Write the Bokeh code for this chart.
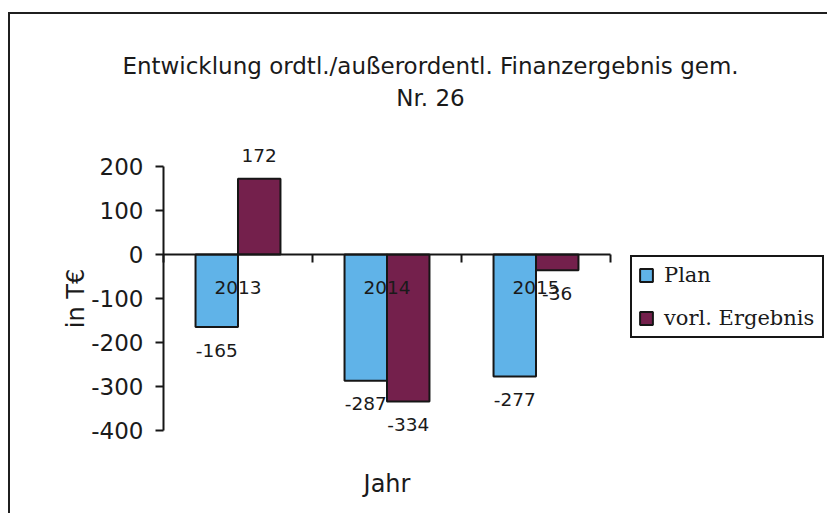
import math
from bokeh.plotting import figure
from bokeh.models import (ColumnDataSource, Range1d, FixedTicker, Label, Legend, LegendItem,
                          CustomJSTickFormatter)
from bokeh.transform import dodge
from bokeh.core.properties import value
from bokeh.embed import file_html
from bokeh.resources import INLINE

# ---- data ----
years = ["2013", "2014", "2015"]
plan = [-165, -287, -277]
vorl = [172, -334, -36]
y_ticks = [-400, -300, -200, -100, 0, 100, 200]
series_names = ["Plan", "vorl. Ergebnis"]
title_lines = ["Entwicklung ordtl./außerordentl. Finanzergebnis gem.", "Nr. 26"]
x_title = "Jahr"
y_title = "in T€"

# ---- style / layout ----
PLAN_COLOR = "#60b3e8"
VORL_COLOR = "#74204c"
EDGE = "#161616"
TXT = "#1a1a1a"
SANS = "DejaVu Sans"
SERIF = "DejaVu Serif"
BAR_W = 0.285
OFF = BAR_W / 2

W, H = 819, 501            # canvas size
CANVAS_X0, CANVAS_Y0 = 10, 14   # canvas origin on the page
CAT_PX = 149.0             # pixels per category
PLOT_LEFT = 153            # canvas x of the first category boundary
PX_PER_UNIT = 0.44         # vertical pixels per value unit
TOP_VAL_PX = 152           # canvas y of the top tick value

n = len(years)
xs = list(range(n))
x_start = -0.5 - PLOT_LEFT / CAT_PX
x_end = x_start + W / CAT_PX
y_top = y_ticks[-1] + TOP_VAL_PX / PX_PER_UNIT
y_bottom = y_top - H / PX_PER_UNIT


def dx(page_x):
    return x_start + (page_x - CANVAS_X0) / CAT_PX


def dy(page_y):
    return y_top - (page_y - CANVAS_Y0) / PX_PER_UNIT


def label_offsets(vals):
    return [-23 if v >= 0 else 23 for v in vals]


src = ColumnDataSource(dict(
    x=xs,
    year=years,
    plan=plan,
    vorl=vorl,
    plan_txt=[str(v) for v in plan],
    vorl_txt=[str(v) for v in vorl],
    plan_off=label_offsets(plan),
    vorl_off=label_offsets(vorl),
    zero=[0] * n,
))

p = figure(x_range=Range1d(x_start, x_end), y_range=Range1d(y_bottom, y_top),
           width=W, height=H, output_backend="svg", toolbar_location=None, title=None,
           min_border_left=0, min_border_right=0, min_border_top=0, min_border_bottom=0)
p.styles = {"position": "relative", "left": "8px", "top": "12px",
            "border-left": "2px solid #1f1f1f", "border-top": "2px solid #1f1f1f"}
p.outline_line_color = None
p.grid.visible = False
p.background_fill_color = "white"
p.border_fill_color = "white"

r_plan = p.vbar(x=dodge("x", -OFF), top="plan", bottom=0, width=BAR_W,
                source=src, fill_color=PLAN_COLOR, line_color=EDGE, line_width=2)
r_vorl = p.vbar(x=dodge("x", OFF), top="vorl", bottom=0, width=BAR_W,
                source=src, fill_color=VORL_COLOR, line_color=EDGE, line_width=2)

# x axis at zero with ticks on category boundaries
xa = p.xaxis[0]
xa.fixed_location = 0
xa.bounds = (-0.5, n - 0.5)
xa.ticker = FixedTicker(ticks=[i - 0.5 for i in range(n + 1)])
xa.formatter = CustomJSTickFormatter(code="return ''")
xa.major_tick_out = 8
xa.major_tick_in = 0
xa.minor_tick_out = 0
xa.minor_tick_in = 0
xa.axis_line_width = 2
xa.axis_line_color = EDGE
xa.major_tick_line_width = 2
xa.major_tick_line_color = EDGE

# y axis
ya = p.yaxis[0]
ya.fixed_location = -0.5
ya.bounds = (y_ticks[0], y_ticks[-1])
ya.ticker = FixedTicker(ticks=y_ticks)
ya.major_label_overrides = {t: str(t) for t in y_ticks}
ya.major_tick_out = 8
ya.major_tick_in = 0
ya.minor_tick_out = 0
ya.minor_tick_in = 0
ya.major_label_standoff = 12
ya.axis_line_width = 2
ya.axis_line_color = EDGE
ya.major_tick_line_width = 2
ya.major_tick_line_color = EDGE
ya.major_label_text_font = SANS
ya.major_label_text_font_size = "23px"
ya.major_label_text_color = TXT

# category labels
p.text(x="x", y="zero", text="year", y_offset=33, source=src,
       text_align="center", text_baseline="middle", text_font=value(SANS),
       text_font_size="18.5px", text_color=TXT)

# data labels
p.text(x=dodge("x", -OFF), y="plan", text="plan_txt", y_offset="plan_off",
       source=src, text_align="center", text_baseline="middle", text_font=value(SANS),
       text_font_size="18.5px", text_color=TXT)
p.text(x=dodge("x", OFF), y="vorl", text="vorl_txt", y_offset="vorl_off",
       source=src, text_align="center", text_baseline="middle", text_font=value(SANS),
       text_font_size="18.5px", text_color=TXT)

# titles
p.add_layout(Label(x=dx(430), y=dy(65), text=title_lines[0],
                   text_align="center", text_baseline="alphabetic", text_font=SANS,
                   text_font_size="23px", text_color=TXT))
p.add_layout(Label(x=dx(430), y=dy(97), text=title_lines[1],
                   text_align="center", text_baseline="alphabetic", text_font=SANS,
                   text_font_size="23px", text_color=TXT))
p.add_layout(Label(x=(n - 1) / 2, y=dy(483), text=x_title,
                   text_align="center", text_baseline="alphabetic", text_font=SANS,
                   text_font_size="24px", text_color=TXT))
p.add_layout(Label(x=dx(75), y=(y_ticks[0] + y_ticks[-1]) / 2, text=y_title,
                   angle=math.pi / 2, text_align="center", text_baseline="alphabetic",
                   text_font=SANS, text_font_size="24px", text_color=TXT))

# legend
legend = Legend(items=[LegendItem(label=series_names[0], renderers=[r_plan]),
                       LegendItem(label=series_names[1], renderers=[r_vorl])],
                location=(630 - CANVAS_X0, H - (338 - CANVAS_Y0)), orientation="vertical",
                padding=6, spacing=19, margin=0,
                glyph_width=16, glyph_height=16, label_height=24, label_width=152,
                label_standoff=10,
                label_text_font=SERIF, label_text_font_size="21px", label_text_color=TXT,
                border_line_color=EDGE, border_line_width=2, border_line_alpha=1.0,
                background_fill_color="white", background_fill_alpha=1.0)
p.add_layout(legend)

open("out.html", "w").write(file_html(p, INLINE))
